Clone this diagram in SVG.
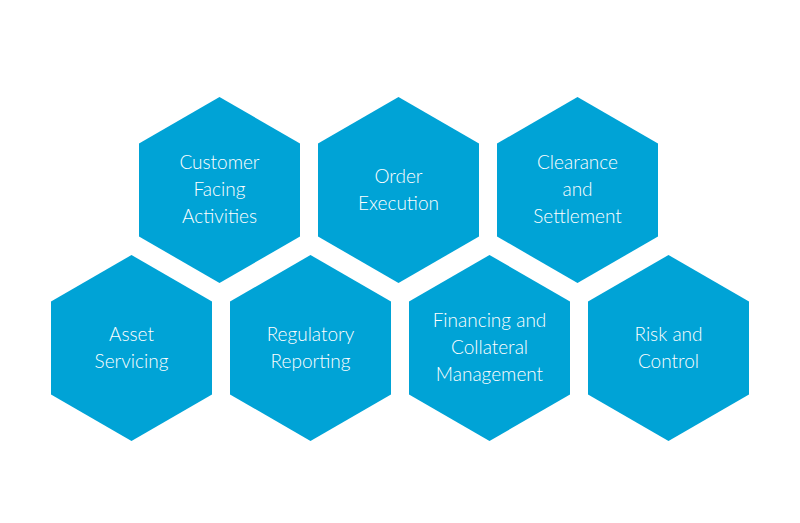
<svg xmlns="http://www.w3.org/2000/svg" width="800" height="523" viewBox="0 0 800 523">
<style>
.hex{fill:#00a3d6}
.t{fill:#ffffff;font-family:Lato,"Open Sans","DejaVu Sans",sans-serif;font-weight:300;font-size:19px;text-anchor:middle}
</style>
<defs>
<polygon id="h" points="0,-93 80.5,-46.5 80.5,46.5 0,93 -80.5,46.5 -80.5,-46.5"/>
</defs>
<rect width="800" height="523" fill="#ffffff"/>
<g id="customer-facing">
<use href="#h" class="hex" x="219.5" y="190"/>
<text class="t" x="219.5"><tspan x="219.5" y="169">Customer</tspan><tspan x="219.5" y="196">Facing</tspan><tspan x="219.5" y="223">Activities</tspan></text>
</g>
<g id="order-execution">
<use href="#h" class="hex" x="398.5" y="190"/>
<text class="t"><tspan x="398.5" y="183">Order</tspan><tspan x="398.5" y="210">Execution</tspan></text>
</g>
<g id="clearance">
<use href="#h" class="hex" x="577.5" y="190"/>
<text class="t"><tspan x="577.5" y="169">Clearance</tspan><tspan x="577.5" y="196">and</tspan><tspan x="577.5" y="223">Settlement</tspan></text>
</g>
<g id="asset-servicing">
<use href="#h" class="hex" x="131.5" y="348"/>
<text class="t"><tspan x="131.5" y="341">Asset</tspan><tspan x="131.5" y="368">Servicing</tspan></text>
</g>
<g id="regulatory-reporting">
<use href="#h" class="hex" x="310.5" y="348"/>
<text class="t"><tspan x="310.5" y="341">Regulatory</tspan><tspan x="310.5" y="368">Reporting</tspan></text>
</g>
<g id="financing">
<use href="#h" class="hex" x="489.5" y="348"/>
<text class="t"><tspan x="489.5" y="327">Financing and</tspan><tspan x="489.5" y="354">Collateral</tspan><tspan x="489.5" y="381">Management</tspan></text>
</g>
<g id="risk-control">
<use href="#h" class="hex" x="668.5" y="348"/>
<text class="t"><tspan x="668.5" y="341">Risk and</tspan><tspan x="668.5" y="368">Control</tspan></text>
</g>
<g id="connectors"/>
</svg>
